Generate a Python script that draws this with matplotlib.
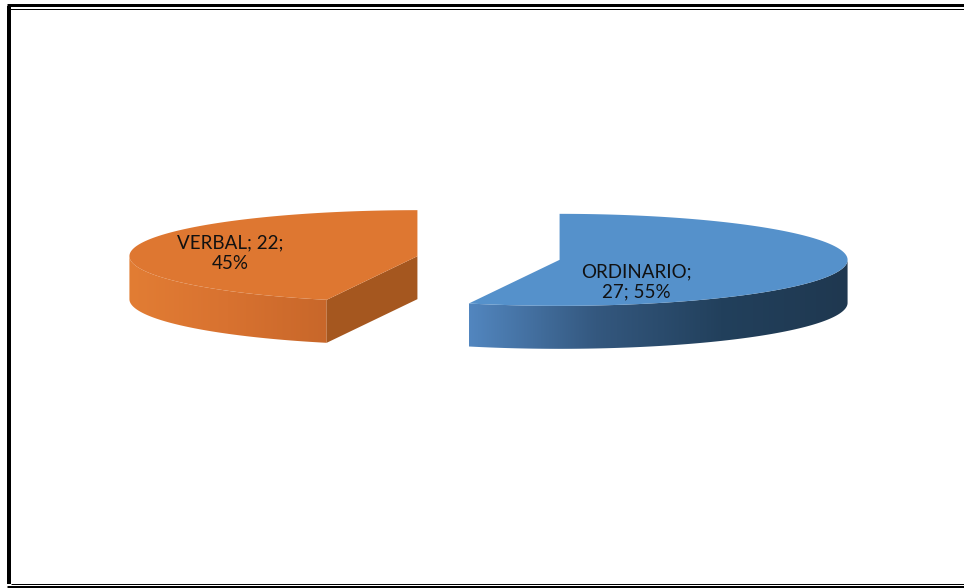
import numpy as np
import matplotlib
matplotlib.use("Agg")
import matplotlib.pyplot as plt
from matplotlib.patches import Polygon
from matplotlib.colors import LinearSegmentedColormap

# data
labels = ["ORDINARIO", "VERBAL"]
values = [27, 22]
top_colors = ["#5591CB", "#DE7731"]
side_colors = [("#5286BF", "#34587F", "#22405C", "#1F3850"),
               ("#E27D34", "#D87230", "#C8672A")]
cut_colors = ["#2E4C6C", "#A5571F"]
label_pos = [(0.27, 20), (0.66, 2)]  # radial fraction, vertical nudge

W, H = 964, 588
cx, cy = 488.5, 258
rx, ry = 288, 46
depth = 43
explode = 0.25

fig = plt.figure(figsize=(W / 100, H / 100), dpi=100)
ax = fig.add_axes([0, 0, 1, 1])
ax.axis("off")


def arc(ox, oy, a, b, n=200):
    t = np.linspace(a, b, n)
    return np.column_stack([ox + rx * np.sin(t), oy - ry * np.cos(t)])


def grad_fill(verts, cols, z):
    poly = Polygon(verts, closed=True, facecolor="none", edgecolor="none", zorder=z)
    ax.add_patch(poly)
    x0, x1 = verts[:, 0].min(), verts[:, 0].max()
    y0, y1 = verts[:, 1].min(), verts[:, 1].max()
    cmap = LinearSegmentedColormap.from_list("g", list(cols))
    im = ax.imshow(np.linspace(0, 1, 256).reshape(1, -1), cmap=cmap,
                   extent=[x0, x1, y1, y0], aspect="auto", zorder=z,
                   interpolation="bilinear")
    im.set_clip_path(poly)


fracs = np.array(values) / sum(values)
starts = np.concatenate([[0], np.cumsum(fracs)[:-1]]) * 2 * np.pi
ends = np.cumsum(fracs) * 2 * np.pi

for i in range(len(values)):
    t0, t1 = starts[i], ends[i]
    mid = (t0 + t1) / 2
    ox = cx + explode * rx * np.sin(mid)
    oy = cy - explode * ry * np.cos(mid)

    # outer side (front half only)
    a, b = max(t0, np.pi / 2), min(t1, 3 * np.pi / 2)
    if b > a:
        top = arc(ox, oy, a, b)
        bot = top[::-1] + [0, depth]
        grad_fill(np.vstack([top, bot]), side_colors[i], 2)

    # cut faces facing the viewer
    for t, vis in ((t0, np.sin(t0) < -1e-6), (t1, np.sin(t1) > 1e-6)):
        if vis:
            ex, ey = ox + rx * np.sin(t), oy - ry * np.cos(t)
            face = np.array([[ox, oy], [ex, ey], [ex, ey + depth], [ox, oy + depth]])
            ax.add_patch(Polygon(face, closed=True, facecolor=cut_colors[i],
                                 edgecolor="none", zorder=3))

    # top face
    topface = np.vstack([[ox, oy], arc(ox, oy, t0, t1)])
    ax.add_patch(Polygon(topface, closed=True, facecolor=top_colors[i],
                         edgecolor="none", zorder=4))

    f, dy = label_pos[i]
    lx = ox + f * rx * np.sin(mid)
    ly = oy - f * ry * np.cos(mid) + dy
    pct = round(fracs[i] * 100)
    txt = f"{labels[i]};\n{values[i]}; {pct}%" if len(labels[i]) > 7 else f"{labels[i]}; {values[i]};\n{pct}%"
    ax.text(lx, ly, txt, ha="center", va="center", fontsize=13.5,
            family="Lato", color="#111111", linespacing=1.25, zorder=5)

# double border frame
k = 0.72
ax.plot([7, W], [5, 5], color="black", lw=3 * k, solid_capstyle="butt")
ax.plot([10, W], [8.5, 8.5], color="black", lw=1 * k, solid_capstyle="butt")
ax.plot([9, 9], [6, 584], color="black", lw=4 * k, solid_capstyle="butt")
ax.plot([11, W], [583.5, 583.5], color="black", lw=1 * k, solid_capstyle="butt")
ax.plot([7, W], [586.5, 586.5], color="black", lw=3 * k, solid_capstyle="butt")

ax.set_xlim(0, W)
ax.set_ylim(H, 0)
fig.savefig("out.png", dpi=100)
